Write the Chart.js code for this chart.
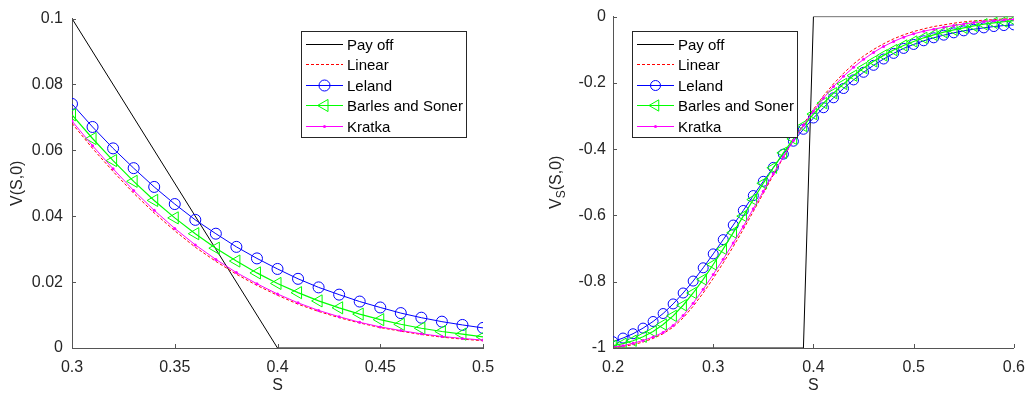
<!DOCTYPE html>
<html>
<head>
<meta charset="utf-8">
<script src="https://cdn.jsdelivr.net/npm/chart.js@4.4.1/dist/chart.umd.min.js"></script>
<style>
  body { margin: 0; background: #fff; width: 1035px; height: 394px; overflow: hidden; position: relative; }
  canvas { position: absolute; top: 0; }
  #leftChart { left: 0; }
  #rightChart { left: 517px; }
</style>
</head>
<body>
<canvas id="leftChart" width="517" height="394"></canvas>
<canvas id="rightChart" width="518" height="394"></canvas>
<script>
const fontFamily = "'Liberation Sans', Arial, sans-serif";
const axisColor = '#555555';
const textColor = '#262626';

const seriesNames = ['Pay off', 'Linear', 'Leland', 'Barles and Soner', 'Kratka'];

// left panel, V(S,0)
const sLeft = [0.30, 0.31, 0.32, 0.33, 0.34, 0.35, 0.36, 0.37, 0.38, 0.39, 0.40,
               0.41, 0.42, 0.43, 0.44, 0.45, 0.46, 0.47, 0.48, 0.49, 0.50];
const payoffLeftS = [0.3, 0.4, 0.5];
const payoffLeftV = [0.1, 0, 0];
const linearLeft = [0.0682, 0.0606, 0.0536, 0.0470, 0.0410, 0.0356, 0.0306, 0.0263, 0.0224, 0.0190, 0.0160,
                    0.0133, 0.0111, 0.0092, 0.0076, 0.0062, 0.0051, 0.0041, 0.0033, 0.0027, 0.0022];
const lelandLeft = [0.0741, 0.0671, 0.0606, 0.0546, 0.0489, 0.0437, 0.0389, 0.0347, 0.0307, 0.0272, 0.0240,
                    0.0210, 0.0184, 0.0162, 0.0141, 0.0123, 0.0106, 0.0092, 0.0080, 0.0070, 0.0061];
const barlesLeft = [0.0708, 0.0636, 0.0569, 0.0506, 0.0448, 0.0395, 0.0347, 0.0303, 0.0264, 0.0228, 0.0196,
                    0.0168, 0.0143, 0.0122, 0.0103, 0.0086, 0.0072, 0.0060, 0.0050, 0.0042, 0.0034];
const kratkaLeft = [0.0689, 0.0614, 0.0544, 0.0478, 0.0418, 0.0363, 0.0313, 0.0269, 0.0229, 0.0195, 0.0164,
                    0.0137, 0.0114, 0.0095, 0.0078, 0.0064, 0.0053, 0.0043, 0.0035, 0.0029, 0.0024];
const xTicksLeft = [0.3, 0.35, 0.4, 0.45, 0.5];
const yTicksLeft = [0, 0.02, 0.04, 0.06, 0.08, 0.1];

// right panel, V_S(S,0)
const sRight = [0.20, 0.21, 0.22, 0.23, 0.24, 0.25, 0.26, 0.27, 0.28, 0.29,
                0.30, 0.31, 0.32, 0.33, 0.34, 0.35, 0.36, 0.37, 0.38, 0.39,
                0.40, 0.41, 0.42, 0.43, 0.44, 0.45, 0.46, 0.47, 0.48, 0.49,
                0.50, 0.51, 0.52, 0.53, 0.54, 0.55, 0.56, 0.57, 0.58, 0.59, 0.60];
const payoffRightS = [0.2, 0.39, 0.4, 0.6];
const payoffRightV = [-1, -1, 0, 0];
const linearRight = [-0.998, -0.995, -0.990, -0.982, -0.971, -0.957, -0.937, -0.909, -0.874, -0.834,
                     -0.790, -0.743, -0.694, -0.642, -0.588, -0.533, -0.478, -0.425, -0.373, -0.325,
                     -0.280, -0.239, -0.203, -0.171, -0.143, -0.119, -0.099, -0.082, -0.067, -0.055,
                     -0.045, -0.037, -0.030, -0.025, -0.020, -0.016, -0.013, -0.011, -0.009, -0.007, -0.006];
const lelandRight = [-0.981, -0.970, -0.957, -0.940, -0.920, -0.896, -0.867, -0.834, -0.798, -0.758,
                     -0.716, -0.673, -0.629, -0.585, -0.540, -0.497, -0.455, -0.415, -0.376, -0.340,
                     -0.306, -0.275, -0.245, -0.217, -0.191, -0.168, -0.147, -0.128, -0.111, -0.096,
                     -0.084, -0.073, -0.064, -0.056, -0.049, -0.043, -0.038, -0.034, -0.030, -0.027, -0.025];
const barlesRight = [-0.993, -0.987, -0.978, -0.966, -0.950, -0.929, -0.903, -0.871, -0.834, -0.793,
                     -0.748, -0.701, -0.652, -0.602, -0.552, -0.503, -0.456, -0.411, -0.369, -0.330,
                     -0.294, -0.261, -0.231, -0.203, -0.178, -0.155, -0.135, -0.117, -0.101, -0.087,
                     -0.075, -0.064, -0.055, -0.047, -0.040, -0.034, -0.028, -0.023, -0.019, -0.015, -0.012];
const kratkaRight = [-0.997, -0.993, -0.986, -0.977, -0.967, -0.953, -0.932, -0.902, -0.865, -0.823,
                     -0.778, -0.732, -0.683, -0.633, -0.580, -0.527, -0.474, -0.423, -0.374, -0.328,
                     -0.285, -0.246, -0.211, -0.180, -0.153, -0.129, -0.108, -0.090, -0.075, -0.062,
                     -0.052, -0.044, -0.038, -0.032, -0.027, -0.022, -0.018, -0.015, -0.012, -0.010, -0.008];
const xTicksRight = [0.2, 0.3, 0.4, 0.5, 0.6];
const yTicksRight = [-1, -0.8, -0.6, -0.4, -0.2, 0];

function pts(xs, ys) {
    return xs.map((x, i) => ({ x: x, y: ys[i] }));
}

function makeDatasets(s, payS, payV, lin, lel, bar, kra, markerSize) {
    return [{
        label: seriesNames[0], data: pts(payS, payV),
        borderColor: '#000000', borderWidth: 1, pointRadius: 0, order: 5
    }, {
        label: seriesNames[1], data: pts(s, lin),
        borderColor: '#ff0000', borderWidth: 1, borderDash: [3, 2], pointRadius: 0, order: 4
    }, {
        label: seriesNames[2], data: pts(s, lel),
        borderColor: '#0000ff', borderWidth: 1,
        pointStyle: 'circle', pointRadius: markerSize, pointBorderWidth: 1,
        pointBorderColor: '#0000ff', pointBackgroundColor: 'rgba(0,0,0,0)', order: 3
    }, {
        label: seriesNames[3], data: pts(s, bar),
        borderColor: '#00ff00', borderWidth: 1.2,
        pointStyle: 'triangle', pointRotation: -90, pointRadius: markerSize + 1.5, pointBorderWidth: 1,
        pointBorderColor: '#00ff00', pointBackgroundColor: 'rgba(0,0,0,0)', order: 2
    }, {
        label: seriesNames[4], data: pts(s, kra),
        borderColor: '#ff00ff', borderWidth: 1,
        pointStyle: 'circle', pointRadius: 1.5, pointBorderWidth: 0,
        pointBorderColor: '#ff00ff', pointBackgroundColor: '#ff00ff', order: 1
    }];
}

// small marker drawing for the legend box
function drawMarker(ctx, ds, x, y) {
    if (!ds.pointRadius) return;
    const r = ds.pointRadius;
    ctx.save();
    ctx.strokeStyle = ds.pointBorderColor;
    ctx.fillStyle = ds.pointBackgroundColor;
    ctx.lineWidth = 1;
    ctx.beginPath();
    if (ds.pointStyle === 'triangle') {
        const h = r * Math.sqrt(3) / 2;
        ctx.moveTo(x - r, y);
        ctx.lineTo(x + r / 2, y - h);
        ctx.lineTo(x + r / 2, y + h);
        ctx.closePath();
    } else {
        ctx.arc(x, y, r, 0, Math.PI * 2);
    }
    ctx.fill();
    if (ds.pointBorderWidth) ctx.stroke();
    ctx.restore();
}

const boxLegend = {
    id: 'boxLegend',
    afterDraw(chart, args, opts) {
        const ctx = chart.ctx;
        const x0 = opts.x, y0 = opts.y, w = 165, h = 106;
        ctx.save();
        ctx.fillStyle = '#ffffff';
        ctx.fillRect(x0, y0, w, h);
        ctx.strokeStyle = '#262626';
        ctx.lineWidth = 1;
        ctx.strokeRect(x0 + 0.5, y0 + 0.5, w, h);
        chart.data.datasets.forEach((ds, i) => {
            const y = Math.round(y0 + 13 + i * 20.4) + 0.5;
            ctx.strokeStyle = ds.borderColor;
            ctx.lineWidth = 1;
            ctx.setLineDash(ds.borderDash || []);
            ctx.beginPath();
            ctx.moveTo(x0 + 5, y);
            ctx.lineTo(x0 + 42, y);
            ctx.stroke();
            ctx.setLineDash([]);
            drawMarker(ctx, ds, x0 + 23.5, y);
            ctx.fillStyle = '#000000';
            ctx.font = '15px ' + fontFamily;
            ctx.textBaseline = 'middle';
            ctx.fillText(ds.label, x0 + 46, y + 1);
        });
        ctx.restore();
    }
};

// MATLAB style ticks pointing into the axes
const innerTicks = {
    id: 'innerTicks',
    afterDatasetsDraw(chart) {
        const { ctx, chartArea, scales } = chart;
        ctx.save();
        ctx.strokeStyle = axisColor;
        ctx.lineWidth = 1;
        ctx.beginPath();
        scales.x.ticks.forEach(t => {
            const px = Math.round(scales.x.getPixelForValue(t.value)) + 0.5;
            ctx.moveTo(px, chartArea.bottom);
            ctx.lineTo(px, chartArea.bottom - 4);
        });
        scales.y.ticks.forEach(t => {
            const py = Math.round(scales.y.getPixelForValue(t.value)) + 0.5;
            ctx.moveTo(chartArea.left, py);
            ctx.lineTo(chartArea.left + 4, py);
        });
        ctx.stroke();
        ctx.restore();
    }
};

// y title with a subscript, V_S(S,0)
const subTitle = {
    id: 'subTitle',
    afterDraw(chart, args, opts) {
        if (!opts.on) return;
        const ctx = chart.ctx;
        const cy = (chart.chartArea.top + chart.chartArea.bottom) / 2;
        const big = '16px ' + fontFamily, small = '12px ' + fontFamily;
        ctx.save();
        ctx.translate(opts.x, cy);
        ctx.rotate(-Math.PI / 2);
        ctx.fillStyle = textColor;
        ctx.textBaseline = 'middle';
        ctx.font = big;
        const w1 = ctx.measureText('V').width, w3 = ctx.measureText('(S,0)').width;
        ctx.font = small;
        const w2 = ctx.measureText('S').width;
        let x = -(w1 + w2 + w3) / 2;
        ctx.font = big;
        ctx.fillText('V', x, 0);
        x += w1;
        ctx.font = small;
        ctx.fillText('S', x, 5);
        x += w2;
        ctx.font = big;
        ctx.fillText('(S,0)', x, 0);
        ctx.restore();
    }
};

function makeChart(id, datasets, xr, yr, xTicks, yTicks, yTitle, yWidth, padRight, padTop, legendPos, labelPad) {
    return new Chart(document.getElementById(id), {
        type: 'line',
        data: { datasets: datasets },
        plugins: [innerTicks, subTitle, boxLegend],
        options: {
            responsive: false,
            animation: false,
            events: [],
            layout: { padding: { left: 0, right: padRight, top: padTop, bottom: 0 } },
            plugins: {
                legend: { display: false },
                tooltip: { enabled: false },
                boxLegend: legendPos,
                subTitle: { on: !yTitle, x: 40 }
            },
            scales: {
                x: {
                    type: 'linear', min: xr[0], max: xr[1],
                    afterBuildTicks: sc => { sc.ticks = xTicks.map(v => ({ value: v })); },
                    afterFit: sc => { sc.height = 46; },
                    grid: { drawOnChartArea: false, drawTicks: false },
                    border: { display: true, color: axisColor, width: 1 },
                    ticks: {
                        padding: 10, color: textColor, maxRotation: 0,
                        font: { family: fontFamily, size: 16 },
                        callback: v => String(v)
                    },
                    title: {
                        display: true, text: 'S', color: textColor,
                        font: { family: fontFamily, size: 16, lineHeight: 1 },
                        padding: { top: 0, bottom: 0 }
                    }
                },
                y: {
                    type: 'linear', min: yr[0], max: yr[1],
                    afterBuildTicks: sc => { sc.ticks = yTicks.map(v => ({ value: v })); },
                    afterFit: sc => { sc.width = yWidth; },
                    grid: { drawOnChartArea: false, drawTicks: false },
                    border: { display: true, color: axisColor, width: 1 },
                    ticks: {
                        padding: labelPad, color: textColor,
                        font: { family: fontFamily, size: 16 },
                        callback: v => String(v)
                    },
                    title: {
                        display: !!yTitle, text: yTitle || '', color: textColor,
                        font: { family: fontFamily, size: 16, lineHeight: 1 },
                        padding: { top: 10, bottom: 0 }
                    }
                }
            }
        }
    });
}

makeChart('leftChart',
    makeDatasets(sLeft, payoffLeftS, payoffLeftV, linearLeft, lelandLeft, barlesLeft, kratkaLeft, 5.5),
    [0.3, 0.5], [0, 0.1], xTicksLeft, yTicksLeft, 'V(S,0)', 72, 34, 15, { x: 301, y: 31 }, 9);

makeChart('rightChart',
    makeDatasets(sRight, payoffRightS, payoffRightV, linearRight, lelandRight, barlesRight, kratkaRight, 5),
    [0.2, 0.6], [-1, 0], xTicksRight, yTicksRight, null, 96, 13, 14, { x: 115, y: 31 }, 7);
</script>
</body>
</html>
